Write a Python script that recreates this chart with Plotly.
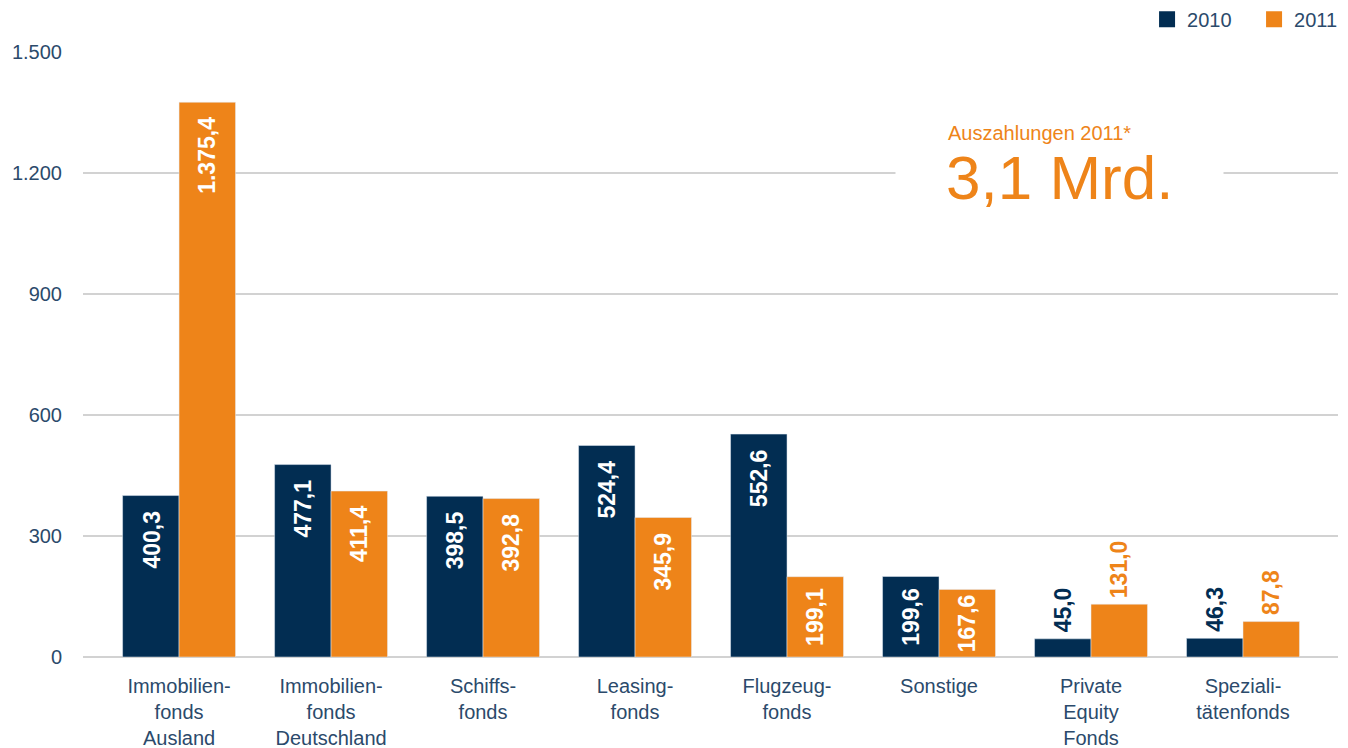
import plotly.graph_objects as go

# Datos (Mio. EUR)
categories = [
    "Immobilien-<br>fonds<br>Ausland",
    "Immobilien-<br>fonds<br>Deutschland",
    "Schiffs-<br>fonds",
    "Leasing-<br>fonds",
    "Flugzeug-<br>fonds",
    "Sonstige",
    "Private<br>Equity<br>Fonds",
    "Speziali-<br>tätenfonds",
]
values_2010 = [400.3, 477.1, 398.5, 524.4, 552.6, 199.6, 45.0, 46.3]
values_2011 = [1375.4, 411.4, 392.8, 345.9, 199.1, 167.6, 131.0, 87.8]
y_ticks = [0, 300, 600, 900, 1200, 1500]
y_ticktext = ["0", "300", "600", "900", "1.200", "1.500"]

NAVY = "#022d52"
ORANGE = "#ee8419"
TXT = "#2b4a6b"
GRID = "#d2d2d2"
FONT = "Liberation Sans, Arial, Helvetica, sans-serif"


def de_fmt(v):
    s = f"{v:,.1f}"
    return s.replace(",", "X").replace(".", ",").replace("X", ".")


fig = go.Figure()
fig.add_trace(go.Bar(x=categories, y=values_2010, marker_color=NAVY,
                     showlegend=False, hoverinfo="skip"))
fig.add_trace(go.Bar(x=categories, y=values_2011, marker_color=ORANGE,
                     showlegend=False, hoverinfo="skip"))

# Legendeneinträge mit größeren Quadraten
for name, col in [("2010", NAVY), ("2011", ORANGE)]:
    fig.add_trace(go.Scatter(x=[None], y=[None], mode="markers", name=name,
                             marker=dict(symbol="square", size=20, color=col)))

# Wertelabels (gedreht)
for vals, col, shift in [(values_2010, NAVY, -28), (values_2011, ORANGE, 28)]:
    for cat, v in zip(categories, vals):
        if v < 150:
            fig.add_annotation(x=cat, y=v, text=f"<b>{de_fmt(v)}</b>", textangle=-90,
                               showarrow=False, xshift=shift, yanchor="bottom", yshift=4,
                               font=dict(family=FONT, size=23, color=col))
        elif v < 250:
            fig.add_annotation(x=cat, y=v / 2, text=f"<b>{de_fmt(v)}</b>", textangle=-90,
                               showarrow=False, xshift=shift, yanchor="middle",
                               font=dict(family=FONT, size=23, color="white"))
        else:
            fig.add_annotation(x=cat, y=v, text=f"<b>{de_fmt(v)}</b>", textangle=-90,
                               showarrow=False, xshift=shift, yanchor="top", yshift=-13,
                               font=dict(family=FONT, size=23, color="white"))

# Kennzahl
fig.add_annotation(xref="paper", x=0.647, y=1200, xanchor="left", yanchor="middle",
                   text="3,1 Mrd.", showarrow=False, bgcolor="white", borderpad=50,
                   font=dict(family=FONT, size=62, color=ORANGE), yshift=-4)
fig.add_annotation(xref="paper", x=0.688, y=1300, xanchor="left", yanchor="middle",
                   text="Auszahlungen 2011*", showarrow=False,
                   font=dict(family=FONT, size=20, color=ORANGE))

# Seite hat 8px Body-Rand -> Ränder entsprechend verschoben
fig.update_layout(
    width=1348, height=748,
    margin=dict(l=75, r=18, t=44, b=99),
    paper_bgcolor="white", plot_bgcolor="white",
    barmode="group", bargap=0.257, bargroupgap=0,
    font=dict(family=FONT, size=20, color=TXT),
    legend=dict(orientation="h", x=0.845, xanchor="left", y=0.985, yanchor="middle",
                xref="container", yref="container", entrywidth=62,
                font=dict(size=20, color=TXT), tracegroupgap=0),
    xaxis=dict(range=[-0.632, 7.625], showgrid=False, showline=False, zeroline=False,
               automargin=False, ticks="", tickfont=dict(size=20, color=TXT),
               ticklabelstandoff=15),
    yaxis=dict(range=[0, 1500], tickvals=y_ticks, ticktext=y_ticktext,
               automargin=False, showgrid=True, gridcolor=GRID, gridwidth=2,
               zeroline=True, zerolinecolor=GRID, zerolinewidth=2, showline=False,
               ticks="", tickfont=dict(size=20, color=TXT), ticklabelstandoff=20),
)

fig.write_html("out.html")
